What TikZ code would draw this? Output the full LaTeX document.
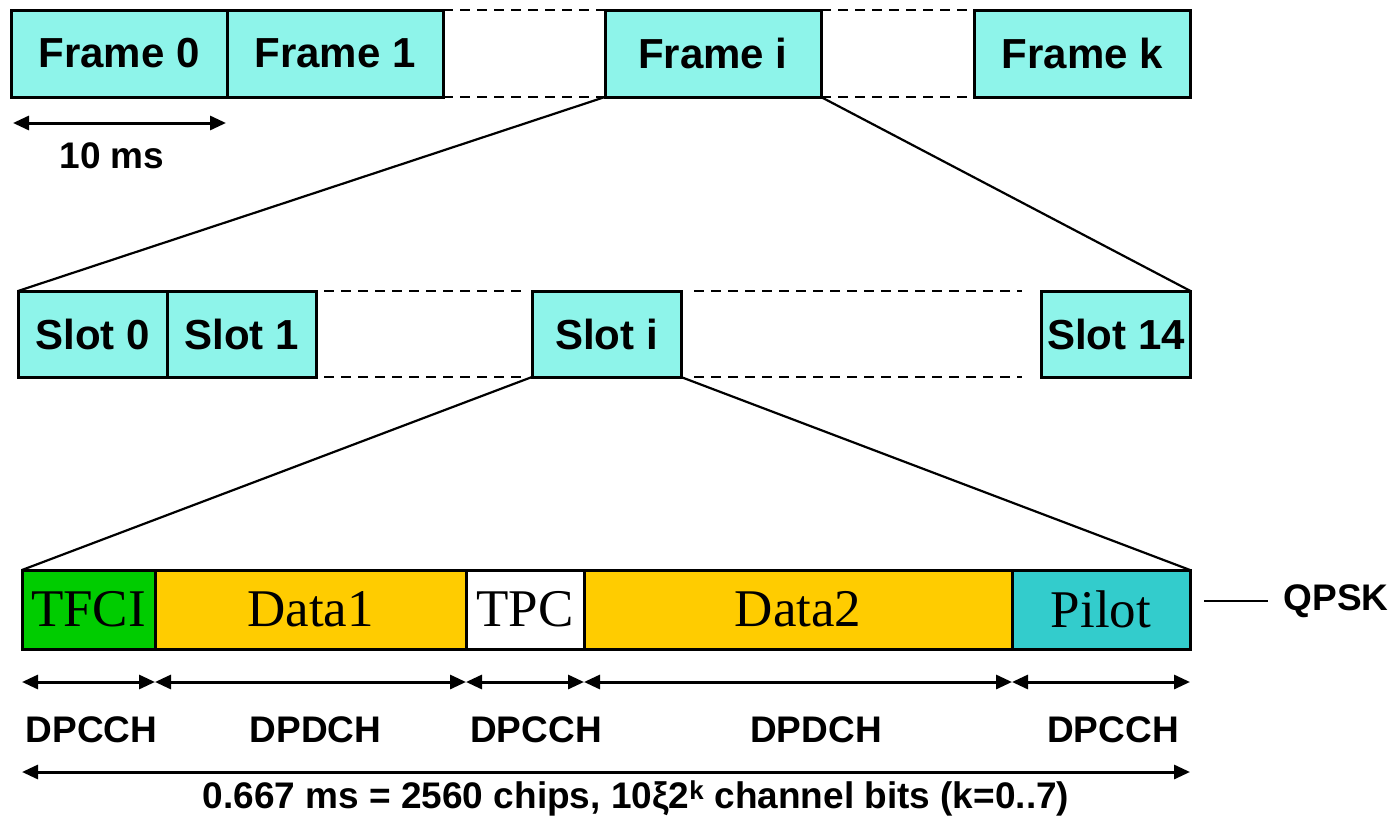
\documentclass[tikz,border=0pt]{standalone}
\usepackage{fontspec}
\setmainfont{Liberation Sans}
\newfontfamily\serifbox{Liberation Serif}
\usetikzlibrary{arrows.meta,positioning,calc}
\definecolor{aqua}{RGB}{142,244,234}
\definecolor{tfcigreen}{RGB}{0,204,0}
\definecolor{datayellow}{RGB}{255,204,0}
\definecolor{pilotcyan}{RGB}{51,204,204}

\begin{document}
\begin{tikzpicture}[
 x=1pt,y=-1pt,
 every node/.style={font=\bfseries\fontsize{37}{40}\selectfont},
 frame/.style={draw=black,line width=3pt,fill=aqua,minimum width=216pt,minimum height=87pt,
   inner sep=0pt,outer sep=0pt,font=\bfseries\fontsize{42}{48}\selectfont},
 slotbox/.style={frame,minimum width=149pt,minimum height=86pt},
 field/.style={draw=black,line width=3pt,minimum height=79pt,inner sep=0pt,outer sep=0pt,
   font=\serifbox\fontsize{53}{56}\selectfont},
 gap/.style={dash pattern=on 10pt off 7pt,line width=2.5pt},
 zoomline/.style={line width=2.2pt},
 dim/.style={{Triangle[length=16pt,width=14pt]}-{Triangle[length=16pt,width=14pt]},line width=3pt}
]
 \useasboundingbox (0,0) rectangle (1400,819);
 % frames
 \node[frame] (f0) at (119,53.5) {Frame 0};
 \node[frame,right=0pt of f0] (f1) {Frame 1};
 \node[frame] (fi) at (713,53.5) {Frame i};
 \node[frame] (fk) at (1082.5,53.5) {Frame k};
 \draw[gap] (f1.north east) -- (fi.north west);
 \draw[gap] (f1.south east) -- (fi.south west);
 \draw[gap] (fi.north east) -- (fk.north west);
 \draw[gap] (fi.south east) -- (fk.south west);
 \coordinate (ms0) at ($(f0.south west)+(2,26)$);
 \coordinate (ms1) at ($(f0.south east)+(-1,26)$);
 \draw[dim] (ms0) -- (ms1);
 \node (ms) at (112,156) {10 ms};
 % slots
 \node[slotbox] (s0) at (92.5,334) {Slot 0};
 \node[slotbox,right=0pt of s0] (s1) {Slot 1};
 \node[slotbox] (si) at (606.5,334) {Slot i};
 \node[slotbox] (s14) at (1116,334) {Slot 14};
 \draw[gap,shorten <=8pt,shorten >=7pt] (s1.north east) -- (si.north west);
 \draw[gap,shorten <=8pt,shorten >=7pt] (s1.south east) -- (si.south west);
 \draw[gap,shorten <=13pt,shorten >=20pt] (si.north east) -- (s14.north west);
 \draw[gap,shorten <=13pt,shorten >=20pt] (si.south east) -- (s14.south west);
 % slot fields
 \node[field,fill=tfcigreen,minimum width=133pt] (tfci) at (88.5,609.5) {TFCI};
 \node[field,fill=datayellow,minimum width=311pt,right=0pt of tfci] (data1) {Data1};
 \node[field,fill=white,minimum width=118pt,right=0pt of data1] (tpc) {TPC};
 \node[field,fill=datayellow,minimum width=428pt,right=0pt of tpc] (data2) {Data2};
 \node[field,fill=pilotcyan,minimum width=178pt,right=0pt of data2] (pilot) {Pilot};
 % zoom lines
 \draw[zoomline] (fi.south west) -- (s0.north west);
 \draw[zoomline] (fi.south east) -- (s14.north east);
 \draw[zoomline] (si.south west) -- (tfci.north west);
 \draw[zoomline] (si.south east) -- (pilot.north east);
 % channel spans
 \foreach \n/\lab/\dx in {tfci/DPCCH/3,data1/DPDCH/5,tpc/DPCCH/11,data2/DPDCH/18,pilot/DPCCH/12}{
   \draw[dim] ($(\n.south west)+(0,33)$) -- ($(\n.south east)+(0,33)$);
   \node (\n-lab) at ($(\n.south)+(\dx,81)$) {\lab};
 }
 \coordinate (span0) at ($(tfci.south west)+(0,123)$);
 \coordinate (span1) at ($(pilot.south east)+(0,123)$);
 \draw[dim] (span0) -- (span1);
 \node (spantext) at (636,798)
   {0.667 ms = 2560 chips, 10ξ2\textsuperscript{k} channel bits (k=0..7)};
 \node (qpsk) at (1336,601) {QPSK};
 \draw[zoomline,shorten <=14pt,shorten >=12pt] (pilot.east |- qpsk) -- (qpsk.west);
\end{tikzpicture}
\end{document}
